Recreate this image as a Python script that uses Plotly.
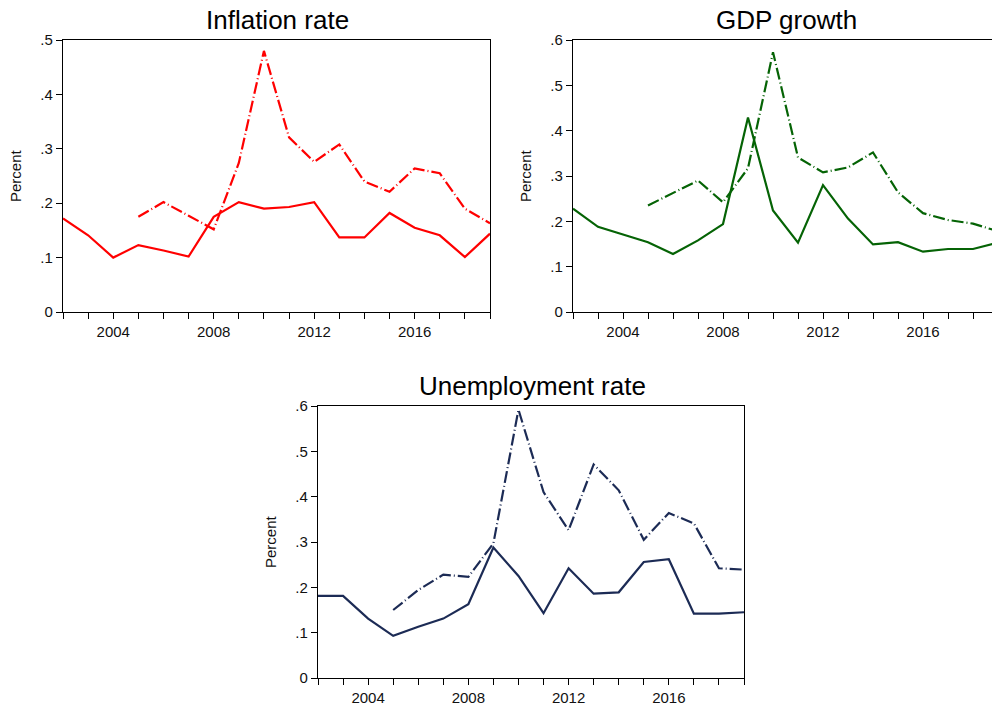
import plotly.graph_objects as go

years = list(range(2002, 2020))
years_dash = list(range(2005, 2020))

infl_solid = [0.172, 0.141, 0.100, 0.123, 0.113, 0.102, 0.175, 0.202, 0.190, 0.193,
              0.202, 0.137, 0.137, 0.182, 0.155, 0.141, 0.101, 0.144]
infl_dash = [0.175, 0.202, 0.177, 0.152, 0.274, 0.480, 0.321, 0.276, 0.308, 0.240,
             0.221, 0.264, 0.255, 0.190, 0.163]

gdp_solid = [0.228, 0.188, 0.171, 0.154, 0.128, 0.158, 0.194, 0.429, 0.224, 0.153,
             0.280, 0.206, 0.149, 0.154, 0.133, 0.139, 0.139, 0.153]
gdp_dash = [0.235, 0.263, 0.290, 0.242, 0.317, 0.573, 0.341, 0.308, 0.319, 0.352,
            0.264, 0.218, 0.203, 0.195, 0.178]

unemp_solid = [0.181, 0.181, 0.131, 0.093, 0.113, 0.131, 0.163, 0.288, 0.225, 0.143,
               0.242, 0.186, 0.189, 0.256, 0.262, 0.142, 0.142, 0.145]
unemp_dash = [0.150, 0.194, 0.228, 0.223, 0.297, 0.592, 0.410, 0.326, 0.471, 0.414,
              0.305, 0.364, 0.341, 0.242, 0.239]

titles = ["Inflation rate", "GDP growth", "Unemployment rate"]
x_label_years = [2004, 2008, 2012, 2016]
ytick_vals_a = [0, 0.1, 0.2, 0.3, 0.4, 0.5]
ytick_text_a = ["0", ".1", ".2", ".3", ".4", ".5"]
ytick_vals_b = [0, 0.1, 0.2, 0.3, 0.4, 0.5, 0.6]
ytick_text_b = ["0", ".1", ".2", ".3", ".4", ".5", ".6"]

W, H = 992, 706
FONT = "Liberation Sans, Arial, sans-serif"
DASH = "12px,3px,1px,3px"

panels = [
    dict(solid=infl_solid, dash=infl_dash, color="#FF0000", px=(63, 490), py=(40, 312),
         xr=[2002, 2019], yr=[0, 0.5], yt=(ytick_vals_a, ytick_text_a), mirror_y=True,
         title_xy=(277, 20), pct_xy=(16, 176)),
    dict(solid=gdp_solid, dash=gdp_dash, color="#056305", px=(573, 992), py=(40, 312),
         xr=[2002, 2018.76], yr=[0, 0.6], yt=(ytick_vals_b, ytick_text_b), mirror_y=False,
         title_xy=(786, 20), pct_xy=(526, 176)),
    dict(solid=unemp_solid, dash=unemp_dash, color="#1C2B55", px=(318, 744), py=(406, 678),
         xr=[2002, 2019], yr=[0, 0.6], yt=(ytick_vals_b, ytick_text_b), mirror_y=True,
         title_xy=(532, 386), pct_xy=(270, 542)),
]

fig = go.Figure()
layout = dict(width=W, height=H, margin=dict(l=0, r=0, t=0, b=0, autoexpand=False),
              paper_bgcolor="white", plot_bgcolor="white", showlegend=False,
              font=dict(family=FONT, color="#111111"))
annotations = []
for i, p in enumerate(panels):
    n = "" if i == 0 else str(i + 1)
    xa, ya = "x" + n, "y" + n
    fig.add_trace(go.Scatter(x=years, y=p["solid"], mode="lines", xaxis=xa, yaxis=ya,
                             line=dict(color=p["color"], width=2.2)))
    fig.add_trace(go.Scatter(x=years_dash, y=p["dash"], mode="lines", xaxis=xa, yaxis=ya,
                             line=dict(color=p["color"], width=2.2, dash=DASH)))
    layout["xaxis" + n] = dict(
        domain=[p["px"][0] / W, p["px"][1] / W], anchor=ya, range=p["xr"], automargin=False,
        tickvals=years, ticktext=[str(y) if y in x_label_years else "" for y in years],
        ticks="outside", ticklen=6, tickcolor="black", tickwidth=1,
        showline=True, linecolor="black", linewidth=1.3, mirror=True,
        showgrid=False, zeroline=False, tickfont=dict(size=15, family=FONT, color="#111"))
    layout["yaxis" + n] = dict(
        domain=[1 - p["py"][1] / H, 1 - p["py"][0] / H], anchor=xa, range=p["yr"], automargin=False,
        tickvals=p["yt"][0], ticktext=p["yt"][1],
        ticks="outside", ticklen=6, tickcolor="black", tickwidth=1,
        showline=True, linecolor="black", linewidth=1.3, mirror=p["mirror_y"],
        showgrid=False, zeroline=False, tickfont=dict(size=15, family=FONT, color="#111"))
    annotations.append(dict(text=titles[i], x=p["title_xy"][0] / W, y=1 - p["title_xy"][1] / H,
                            xref="paper", yref="paper", showarrow=False,
                            xanchor="center", yanchor="middle",
                            font=dict(size=26, family=FONT, color="black")))
    annotations.append(dict(text="Percent", x=p["pct_xy"][0] / W, y=1 - p["pct_xy"][1] / H,
                            xref="paper", yref="paper", showarrow=False, textangle=-90,
                            xanchor="center", yanchor="middle",
                            font=dict(size=15, family=FONT, color="#111")))
layout["annotations"] = annotations
fig.update_layout(**layout)
fig.write_html("out.html")
